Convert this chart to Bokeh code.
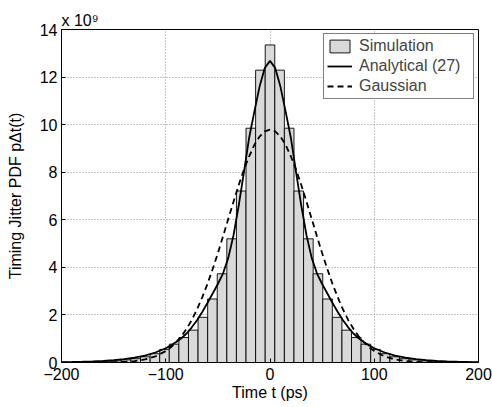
from bokeh.plotting import figure
from bokeh.models import Range1d, Legend, LegendItem, Title
from bokeh.embed import file_html
from bokeh.resources import INLINE

# ---- data (values in units of 1e9) ----
bin_centers = [-174.8, -165.6, -156.4, -147.2, -138.0, -128.8, -119.6, -110.4, -101.2, -92.0,
               -82.8, -73.6, -64.4, -55.2, -46.0, -36.8, -27.6, -18.4, -9.2, 0.0,
               9.2, 18.4, 27.6, 36.8, 46.0, 55.2, 64.4, 73.6, 82.8, 92.0,
               101.2, 110.4, 119.6, 128.8, 138.0, 147.2, 156.4, 165.6, 174.8]
sim_pdf = [0.02, 0.03, 0.05, 0.07, 0.11, 0.16, 0.24, 0.37, 0.55, 0.77,
           1.05, 1.36, 1.90, 2.67, 3.73, 5.20, 7.21, 9.85, 12.29, 13.35,
           12.29, 9.85, 7.21, 5.20, 3.73, 2.67, 1.90, 1.36, 1.05, 0.77,
           0.55, 0.37, 0.24, 0.16, 0.11, 0.07, 0.05, 0.03, 0.02]

t_curve = [-200, -190, -180, -170, -160, -150, -140, -130, -120, -110,
           -100, -95, -90, -85, -80, -75, -70, -65, -60, -55, -50, -45, -40, -35,
           -30, -25, -20, -15, -10, -5, 0, 5, 10, 15, 20, 25, 30, 35, 40, 45, 50,
           55, 60, 65, 70, 75, 80, 85, 90, 95, 100,
           110, 120, 130, 140, 150, 160, 170, 180, 190, 200]
analytical_pdf = [0.018, 0.025, 0.035, 0.05, 0.07, 0.10, 0.14, 0.20, 0.29, 0.42,
                  0.60, 0.72, 0.86, 1.02, 1.22, 1.48, 1.78, 2.12, 2.50, 2.90, 3.30, 3.75, 4.40, 5.35,
                  6.60, 8.00, 9.45, 10.55, 11.60, 12.38, 12.68, 12.38, 11.60, 10.55, 9.45, 8.00, 6.60, 5.35, 4.40, 3.75, 3.30,
                  2.90, 2.50, 2.12, 1.78, 1.48, 1.22, 1.02, 0.86, 0.72, 0.60,
                  0.42, 0.29, 0.20, 0.14, 0.10, 0.07, 0.05, 0.035, 0.025, 0.018]
gaussian_pdf = [0.0001, 0.0002, 0.0006, 0.0017, 0.004, 0.011, 0.026, 0.060, 0.127, 0.254,
                0.48, 0.642, 0.85, 1.105, 1.42, 1.79, 2.23, 2.74, 3.30, 3.93, 4.60, 5.31, 6.04, 6.76,
                7.46, 8.11, 8.67, 9.15, 9.50, 9.72, 9.79, 9.72, 9.50, 9.15, 8.67, 8.11, 7.46, 6.76, 6.04, 5.31, 4.60,
                3.93, 3.30, 2.74, 2.23, 1.79, 1.42, 1.105, 0.85, 0.642, 0.48,
                0.254, 0.127, 0.060, 0.026, 0.011, 0.004, 0.0017, 0.0006, 0.0002, 0.0001]

x_ticks = [-200, -100, 0, 100, 200]
x_tick_labels = ["\u2212200", "\u2212100", "0", "100", "200"]
y_ticks = [0, 2, 4, 6, 8, 10, 12, 14]
y_tick_labels = ["0", "2", "4", "6", "8", "10", "12", "14"]

FONT = "Liberation Sans"

p = figure(width=492, height=407, output_backend="svg", toolbar_location=None,
           x_range=Range1d(-200, 200), y_range=Range1d(0, 14),
           min_border_left=61, min_border_right=14, min_border_top=29, min_border_bottom=45)
p.background_fill_color = "white"
p.border_fill_color = "white"
p.outline_line_color = "black"
p.outline_line_width = 1

# grid
p.xgrid.ticker = x_ticks
p.ygrid.ticker = y_ticks
for g in (p.xgrid, p.ygrid):
    g.grid_line_color = "#8c8c8c"
    g.grid_line_dash = "1 2"
    g.grid_line_width = 1

# axes
p.xaxis.ticker = x_ticks
p.yaxis.ticker = y_ticks
p.xaxis.major_label_overrides = {k: v for k, v in zip(x_ticks, x_tick_labels)}
p.yaxis.major_label_overrides = {k: v for k, v in zip(y_ticks, y_tick_labels)}
for ax in (p.xaxis, p.yaxis):
    ax.major_label_text_font = FONT
    ax.major_label_text_font_size = "16px"
    ax.major_label_text_color = "black"
    ax.axis_line_color = "black"
    ax.major_tick_line_color = "black"
    ax.major_tick_in = 4
    ax.major_tick_out = 0
    ax.minor_tick_line_color = None
    ax.axis_label_text_font = FONT
    ax.axis_label_text_font_size = "16px"
    ax.axis_label_text_font_style = "normal"
    ax.axis_label_text_color = "black"
p.xaxis.major_label_standoff = 5
p.yaxis.major_label_standoff = 4
p.xaxis.axis_label = "Time t (ps)"
p.xaxis.axis_label_standoff = 1
p.yaxis.axis_label = "Timing Jitter PDF p\u0394t(t)"
p.yaxis.axis_label_standoff = 13

# exponent label above the y axis
p.add_layout(Title(text="x 10\u2079", align="left", offset=0, standoff=1,
                   vertical_align="bottom", text_font=FONT, text_font_size="16px",
                   text_font_style="normal", text_color="black"), "above")

# glyphs
r_bar = p.vbar(x=bin_centers, top=sim_pdf, bottom=0, width=9.2,
               fill_color="#d9d9d9", line_color="black", line_width=0.9)
r_ana = p.line(t_curve, analytical_pdf, line_color="black", line_width=1.8)
r_gau = p.line(t_curve, gaussian_pdf, line_color="black", line_width=1.8, line_dash="6 4")

legend = Legend(items=[LegendItem(label="Simulation", renderers=[r_bar]),
                       LegendItem(label="Analytical (27)", renderers=[r_ana]),
                       LegendItem(label="Gaussian", renderers=[r_gau])],
                location="top_right", margin=4, padding=3, spacing=2,
                glyph_width=25, glyph_height=16, label_height=16, label_width=111,
                label_standoff=7,
                label_text_font=FONT, label_text_font_size="16px",
                border_line_color="black", border_line_width=1,
                background_fill_color="white", background_fill_alpha=1)
p.add_layout(legend)

open("out.html", "w").write(file_html(p, INLINE))
